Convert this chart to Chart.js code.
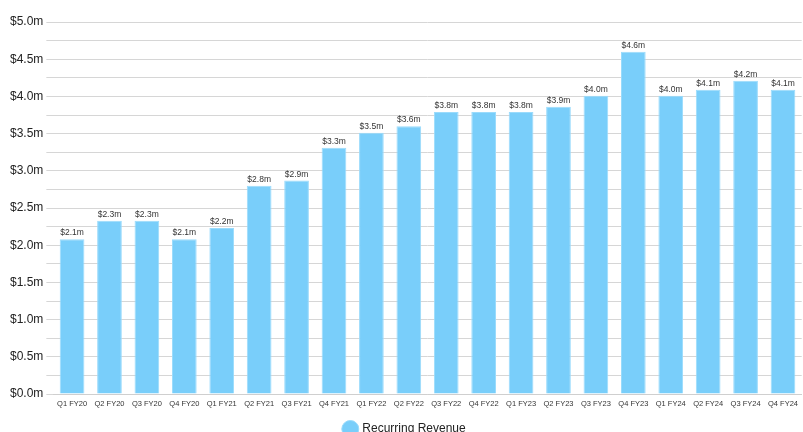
<!DOCTYPE html>
<html>
<head>
<meta charset="utf-8">
<script src="https://cdn.jsdelivr.net/npm/chart.js@4.4.1/dist/chart.umd.min.js"></script>
<style>
  html, body { margin: 0; padding: 0; background: #fff; }
  #wrap { width: 803px; height: 432px; }
</style>
</head>
<body>
<div id="wrap"><canvas id="myChart"></canvas></div>
<script>
// quarters along the x-axis
var quarters = ['Q1 FY20', 'Q2 FY20', 'Q3 FY20', 'Q4 FY20',
                'Q1 FY21', 'Q2 FY21', 'Q3 FY21', 'Q4 FY21',
                'Q1 FY22', 'Q2 FY22', 'Q3 FY22', 'Q4 FY22',
                'Q1 FY23', 'Q2 FY23', 'Q3 FY23', 'Q4 FY23',
                'Q1 FY24', 'Q2 FY24', 'Q3 FY24', 'Q4 FY24'];

// recurring revenue, $m
var revenue = [2.08, 2.33, 2.33, 2.08,
               2.23, 2.80, 2.87, 3.31,
               3.51, 3.60, 3.79, 3.79,
               3.79, 3.86, 4.01, 4.60,
               4.01, 4.09, 4.21, 4.09];

var seriesName = 'Recurring Revenue';
var yMin = 0, yMax = 5;

function money(v) {
    return '$' + v.toFixed(1) + 'm';
}

// draws the value above each bar
var barLabels = {
    id: 'barLabels',
    afterDatasetsDraw: function(chart) {
        var ctx = chart.ctx;
        var meta = chart.getDatasetMeta(0);
        ctx.save();
        ctx.font = '8.5px "Liberation Sans", Arial, sans-serif';
        ctx.fillStyle = '#333';
        ctx.textAlign = 'center';
        ctx.textBaseline = 'bottom';
        meta.data.forEach(function(bar, i) {
            ctx.fillText(money(chart.data.datasets[0].data[i]), bar.x, bar.y - 2);
        });
        ctx.restore();
    }
};

var ctx = document.getElementById('myChart');
var myChart = new Chart(ctx, {
    type: 'bar',
    data: {
        labels: quarters,
        datasets: [{
            label: seriesName,
            data: revenue,
            backgroundColor: '#79CEFA',
            borderColor: '#9ADBFC',
            borderWidth: 1,
            categoryPercentage: 1.0,
            barPercentage: 0.66
        }]
    },
    options: {
        responsive: true,
        maintainAspectRatio: false,
        animation: false,
        layout: { padding: { top: 22, right: 0, left: 7, bottom: -13 } },
        plugins: {
            tooltip: { enabled: false },
            legend: {
                position: 'bottom',
                labels: {
                    usePointStyle: true,
                    pointStyle: 'circle',
                    color: '#222',
                    padding: 10,
                    font: { family: '"Liberation Sans", Arial, sans-serif', size: 12 }
                }
            }
        },
        scales: {
            x: {
                grid: { display: false, drawTicks: false },
                border: { color: '#cfcfcf' },
                ticks: {
                    autoSkip: false,
                    maxRotation: 0,
                    color: '#333',
                    padding: 5,
                    font: { family: '"Liberation Sans", Arial, sans-serif', size: 7.5 }
                }
            },
            y: {
                min: yMin,
                max: yMax,
                border: { display: false },
                grid: { color: '#d6d6d6', tickLength: 7 },
                ticks: {
                    stepSize: 0.25,
                    color: '#222',
                    padding: 3,
                    font: { family: '"Liberation Sans", Arial, sans-serif', size: 12 },
                    callback: function(v) {
                        return (Math.round(v * 100) % 50 === 0) ? money(v) : '';
                    }
                }
            }
        }
    },
    plugins: [barLabels]
});
</script>
</body>
</html>
